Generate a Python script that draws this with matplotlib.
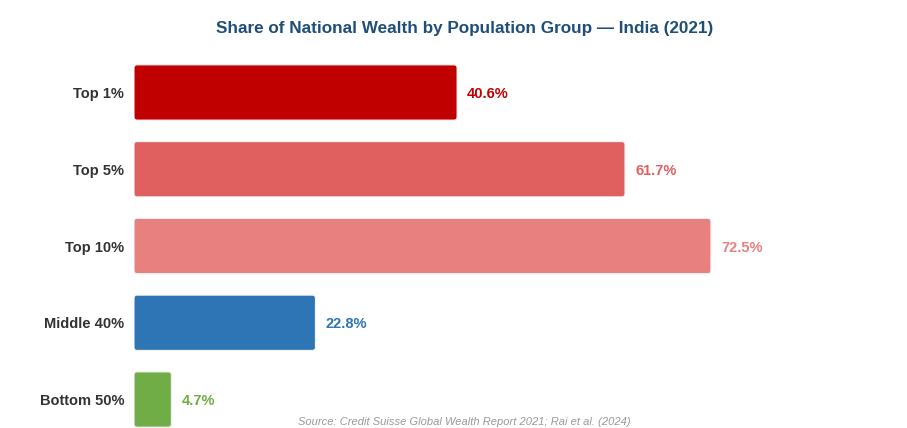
import matplotlib.pyplot as plt
from matplotlib.patches import FancyBboxPatch

plt.rcParams["font.family"] = ["Liberation Sans", "DejaVu Sans"]

groups = ["Top 1%", "Top 5%", "Top 10%", "Middle 40%", "Bottom 50%"]
shares = [40.6, 61.7, 72.5, 22.8, 4.7]
colors = ["#C00000", "#E06060", "#E88080", "#2E75B6", "#70AD47"]

W, H = 907, 428
fig = plt.figure(figsize=(W / 100, H / 100), dpi=100)

# axes placed in pixel terms: x=0 at 134px, rows 76.75px apart
x0, x1 = 134, 890
y_top, y_bot = 54.1, 437.9
ax = fig.add_axes([x0 / W, (H - y_bot) / H, (x1 - x0) / W, (y_bot - y_top) / H])
xmax = 95
ax.set_xlim(0, xmax)
ax.set_ylim(len(groups) - 0.5, -0.5)
ax.axis("off")

px_x = (x1 - x0) / xmax
px_y = (y_bot - y_top) / len(groups)
bar_h = 0.72

for i, (g, v, c) in enumerate(zip(groups, shares, colors)):
    box = FancyBboxPatch(
        (0, i - bar_h / 2), v, bar_h,
        boxstyle="round,pad=0,rounding_size=0.4",
        mutation_aspect=px_x / px_y,
        facecolor=c, edgecolor="#f4f4f4", linewidth=0.8,
    )
    ax.add_patch(box)
    ax.text(v + 10 / px_x, i, f"{v}%", color=c, fontsize=10.5,
            fontweight="bold", va="center_baseline", ha="left")
    ax.text(-10 / px_x, i, g, color="#333333", fontsize=10.5,
            fontweight="bold", va="center_baseline", ha="right")

fig.text(465 / W, 1 - 27.5 / H, "Share of National Wealth by Population Group \u2014 India (2021)",
         ha="center", va="center_baseline", fontsize=12.3, fontweight="bold", color="#1F4E79")
fig.text(464 / W, 1 - 422 / H, "Source: Credit Suisse Global Wealth Report 2021; Rai et al. (2024)",
         ha="center", va="center", fontsize=8, style="italic", color="#999999")

fig.savefig("out.png", dpi=100)
